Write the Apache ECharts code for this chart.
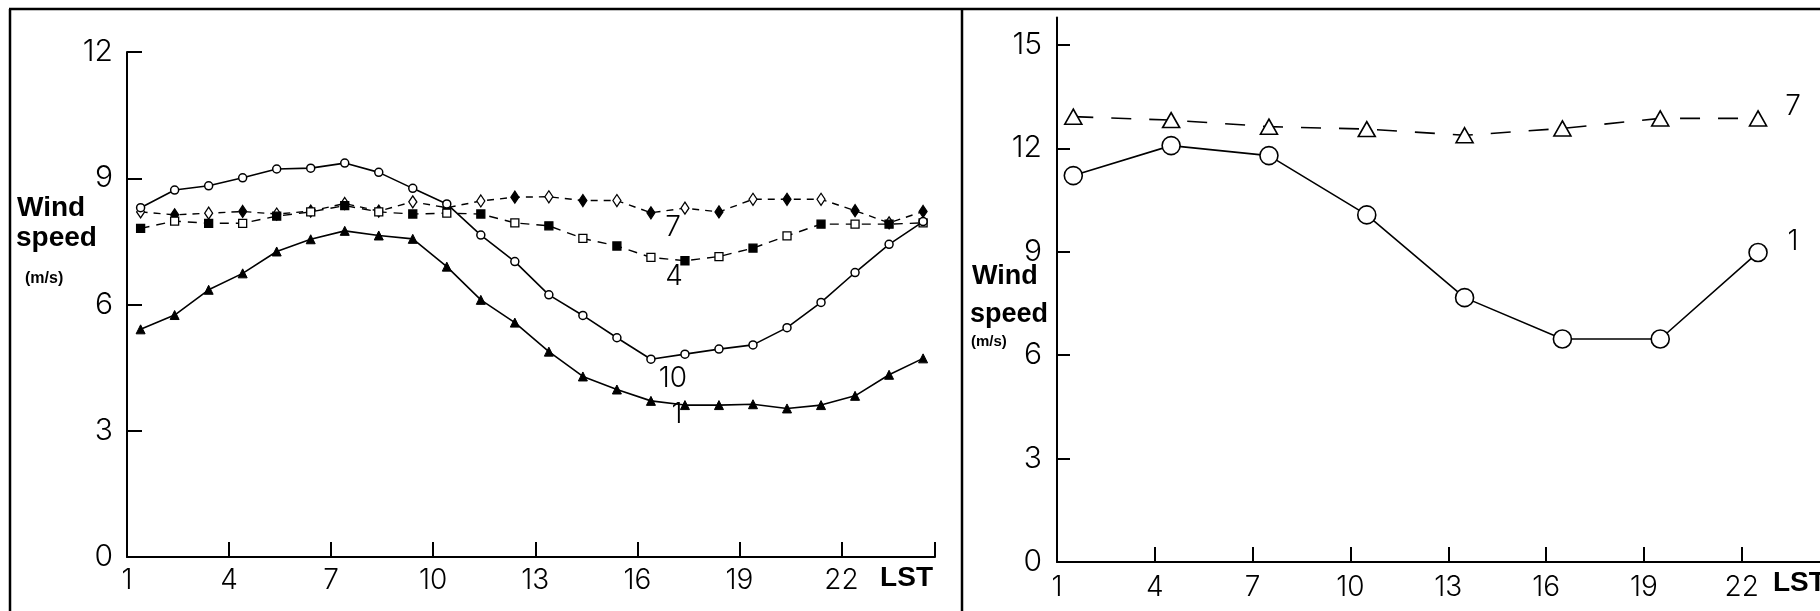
<!DOCTYPE html>
<html>
<head>
<meta charset="utf-8">
<script src="https://cdn.jsdelivr.net/npm/echarts@6/dist/echarts.min.js"></script>
<style>
html,body{margin:0;padding:0;background:#fff;}
#c{width:1820px;height:611px;}
</style>
</head>
<body>
<div id="c"></div>
<script>
// ---- Left panel data (hourly, LST) ----
const hoursLeft = [1.4,2.4,3.4,4.4,5.4,6.4,7.4,8.4,9.4,10.4,11.4,12.4,13.4,14.4,15.4,16.4,17.4,18.4,19.4,20.4,21.4,22.4,23.4,24.4];
const left10 = [8.30,8.72,8.82,9.01,9.22,9.24,9.36,9.14,8.76,8.39,7.65,7.02,6.23,5.74,5.21,4.70,4.82,4.94,5.04,5.45,6.05,6.76,7.43,7.97];
const left1  = [5.41,5.75,6.35,6.74,7.26,7.55,7.75,7.64,7.56,6.90,6.11,5.57,4.88,4.29,3.98,3.71,3.61,3.61,3.63,3.53,3.61,3.83,4.33,4.72];
const left7  = [8.20,8.13,8.17,8.21,8.15,8.22,8.40,8.22,8.44,8.30,8.46,8.55,8.56,8.47,8.47,8.18,8.29,8.20,8.50,8.50,8.50,8.23,7.94,8.21];
const left4  = [7.81,7.98,7.93,7.93,8.10,8.20,8.35,8.20,8.15,8.17,8.15,7.94,7.87,7.57,7.39,7.12,7.04,7.14,7.34,7.63,7.91,7.91,7.91,7.94];
const leftXTicks = [1,4,7,10,13,16,19,22];
const leftYTicks = [0,3,6,9,12];

// ---- Right panel data (3-hourly, LST) ----
const hoursRight = [1.5,4.5,7.5,10.5,13.5,16.5,19.5,22.5];
const right1 = [11.21,12.08,11.79,10.07,7.67,6.47,6.47,8.98];
const right7 = [12.92,12.82,12.63,12.56,12.38,12.58,12.87,12.87];
const rightXTicks = [1,4,7,10,13,16,19,22];
const rightYTicks = [0,3,6,9,12,15];

const tickFont = 'Inter';
const boldFont = '"Liberation Sans", Arial, sans-serif';

function pairs(xs, ys){ return xs.map((x,i)=>[x, ys[i]]); }
function altFill(xs, ys, filledOdd){
  return xs.map((x,i)=>{
    const filled = (i % 2 === 1) === filledOdd;
    return {value:[x, ys[i]], itemStyle:{color: filled ? '#000' : '#fff', borderColor:'#000', borderWidth:1.3}};
  });
}

const axisLine = {show:true, onZero:false, lineStyle:{color:'#000', width:2}};

const chart = echarts.init(document.getElementById('c'), null, {renderer:'canvas'});
chart.setOption({
  backgroundColor:'#fff',
  animation:false,
  grid:[
    {left:127, top:52, width:808, height:505},
    {left:1057, top:17.4, width:764.5, height:544.6}
  ],
  xAxis:[
    {gridIndex:0, type:'value', min:1, max:24.75,
     axisLine:axisLine,
     axisTick:{show:true, inside:true, length:15, lineStyle:{color:'#000', width:2}, customValues:leftXTicks.concat([24.75])},
     axisLabel:{show:true, customValues:leftXTicks, color:'#000', fontFamily:tickFont, fontWeight:300, fontSize:28, margin:10},
     splitLine:{show:false}},
    {gridIndex:1, type:'value', min:1, max:24.4,
     axisLine:axisLine,
     axisTick:{show:true, inside:true, length:15, lineStyle:{color:'#000', width:2}, customValues:rightXTicks},
     axisLabel:{show:true, customValues:rightXTicks, color:'#000', fontFamily:tickFont, fontWeight:300, fontSize:28, margin:12},
     splitLine:{show:false}}
  ],
  yAxis:[
    {gridIndex:0, type:'value', min:0, max:12, interval:3,
     axisLine:axisLine,
     axisTick:{show:true, inside:true, length:15, lineStyle:{color:'#000', width:2}, customValues:leftYTicks},
     axisLabel:{show:true, customValues:leftYTicks, color:'#000', fontFamily:tickFont, fontWeight:300, fontSize:30, margin:14},
     splitLine:{show:false}},
    {gridIndex:1, type:'value', min:0, max:15.8,
     axisLine:axisLine,
     axisTick:{show:true, inside:true, length:13, lineStyle:{color:'#000', width:2}, customValues:rightYTicks},
     axisLabel:{show:true, customValues:rightYTicks, color:'#000', fontFamily:tickFont, fontWeight:300, fontSize:30, margin:15},
     splitLine:{show:false}}
  ],
  series:[
    {type:'line', xAxisIndex:0, yAxisIndex:0, data:altFill(hoursLeft, left7, true),
     symbol:'diamond', symbolSize:[8,12], showAllSymbol:true,
     lineStyle:{color:'#000', width:1.4, type:[7,6]}, z:3},
    {type:'line', xAxisIndex:0, yAxisIndex:0, data:altFill(hoursLeft, left4, false),
     symbol:'rect', symbolSize:8, showAllSymbol:true,
     lineStyle:{color:'#000', width:1.4, type:[9,7]}, z:3},
    {type:'line', xAxisIndex:0, yAxisIndex:0, data:pairs(hoursLeft, left10),
     symbol:'circle', symbolSize:8, showAllSymbol:true,
     itemStyle:{color:'#fff', borderColor:'#000', borderWidth:1.5},
     lineStyle:{color:'#000', width:1.6}, z:4},
    {type:'line', xAxisIndex:0, yAxisIndex:0, data:pairs(hoursLeft, left1),
     symbol:'triangle', symbolSize:9, showAllSymbol:true,
     itemStyle:{color:'#000', borderColor:'#000', borderWidth:1},
     lineStyle:{color:'#000', width:1.6}, z:4},
    {type:'line', xAxisIndex:1, yAxisIndex:1, data:pairs(hoursRight, right1),
     symbol:'circle', symbolSize:18, showAllSymbol:true,
     itemStyle:{color:'#fff', borderColor:'#000', borderWidth:1.6},
     lineStyle:{color:'#000', width:1.6}, z:4},
    {type:'line', xAxisIndex:1, yAxisIndex:1, data:pairs(hoursRight, right7),
     symbol:'triangle', symbolSize:[17,15], showAllSymbol:true,
     itemStyle:{color:'#fff', borderColor:'#000', borderWidth:1.6},
     lineStyle:{color:'#000', width:1.6, type:[20,18]}, z:4}
  ],
  graphic:[
    {type:'line', shape:{x1:9, y1:9, x2:1820, y2:9}, style:{stroke:'#000', lineWidth:2.5}},
    {type:'line', shape:{x1:10, y1:9, x2:10, y2:611}, style:{stroke:'#000', lineWidth:2.5}},
    {type:'line', shape:{x1:962, y1:9, x2:962, y2:611}, style:{stroke:'#000', lineWidth:2.5}},
    // left axis title
    {type:'text', x:17, y:208, style:{text:'Wind', font:'bold 28px '+boldFont, fill:'#000', textVerticalAlign:'middle'}},
    {type:'text', x:16, y:238, style:{text:'speed', font:'bold 28px '+boldFont, fill:'#000', textVerticalAlign:'middle'}},
    {type:'text', x:25, y:279, style:{text:'(m/s)', font:'bold 16px '+boldFont, fill:'#000', textVerticalAlign:'middle'}},
    {type:'text', x:933, y:578, style:{text:'LST', font:'bold 28px '+boldFont, fill:'#000', textAlign:'right', textVerticalAlign:'middle'}},
    // right axis title
    {type:'text', x:972, y:277, style:{text:'Wind', font:'bold 27px '+boldFont, fill:'#000', textVerticalAlign:'middle'}},
    {type:'text', x:970, y:315, style:{text:'speed', font:'bold 27px '+boldFont, fill:'#000', textVerticalAlign:'middle'}},
    {type:'text', x:971, y:342, style:{text:'(m/s)', font:'bold 15px '+boldFont, fill:'#000', textVerticalAlign:'middle'}},
    {type:'text', x:1773, y:583, style:{text:'LST', font:'bold 28px '+boldFont, fill:'#000', textVerticalAlign:'middle'}},
    // series labels
    {type:'text', x:673, y:228, style:{text:'7', font:'300 28px '+tickFont, fill:'#000', textAlign:'center', textVerticalAlign:'middle'}},
    {type:'text', x:674, y:277, style:{text:'4', font:'300 28px '+tickFont, fill:'#000', textAlign:'center', textVerticalAlign:'middle'}},
    {type:'text', x:673, y:379, style:{text:'10', font:'300 28px '+tickFont, fill:'#000', textAlign:'center', textVerticalAlign:'middle'}},
    {type:'text', x:677, y:415, style:{text:'1', font:'300 28px '+tickFont, fill:'#000', textAlign:'center', textVerticalAlign:'middle'}},
    {type:'text', x:1793, y:107, style:{text:'7', font:'300 28px '+tickFont, fill:'#000', textAlign:'center', textVerticalAlign:'middle'}},
    {type:'text', x:1793, y:242, style:{text:'1', font:'300 28px '+tickFont, fill:'#000', textAlign:'center', textVerticalAlign:'middle'}}
  ]
});
</script>
</body>
</html>
